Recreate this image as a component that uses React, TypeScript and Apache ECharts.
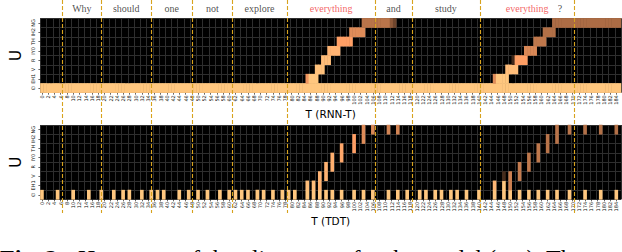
import React, { useEffect, useRef } from 'react';
import * as echarts from 'echarts';

// ---------- data ----------
const frameCount = 186; // T = 0 … 185
const frames: string[] = Array.from({ length: frameCount }, (_, i) => String(i));
const tokens = ['∅', 'EH1', 'V', 'R', 'IY0', 'TH', 'IH2', 'NG'];

const words = ['Why', 'should', 'one', 'not', 'explore', 'everything', 'and', 'study', 'everything', '?'];
const wordCenters = [18.2, 32, 46.2, 58.8, 73.5, 95.8, 115.2, 131.5, 156.8, 167];
const wordHighlighted = [false, false, false, false, false, true, false, false, true, false];
const wordBoundaries = [12.1, 24.2, 39.7, 52.6, 65, 82.1, 109.4, 120.9, 142.2, 171.3];

// RNN-T: runs of [row, firstFrame, lastFrame, probability]
const rnntRuns: [number, number, number, number][] = [
  [0, 0, 185, 1.0],
  [1, 85, 85, 0.75], [1, 86, 88, 1.0],
  [2, 88, 90, 0.97],
  [3, 90, 92, 0.95],
  [4, 92, 95, 0.9],
  [5, 95, 99, 0.8],
  [6, 99, 103, 0.7],
  [7, 103, 111, 0.58], [7, 112, 112, 0.45], [7, 113, 113, 0.35],
  [1, 145, 145, 0.7], [1, 146, 149, 1.0],
  [2, 149, 152, 0.95],
  [3, 151, 151, 0.2], [3, 152, 155, 0.8],
  [4, 155, 158, 0.68],
  [5, 158, 161, 0.6],
  [6, 161, 164, 0.56],
  [7, 164, 185, 0.54],
];

// TDT: frames where a blank is emitted
const tdtBlankFrames = [
  0, 5, 10, 15, 19, 23, 26, 28, 32, 35, 37, 39, 44, 47, 50, 53, 57, 60, 62, 64, 66,
  69, 71, 74, 77, 79, 81, 85, 87, 89, 91, 93, 96, 100, 103, 106, 111, 114, 117,
  121, 123, 126, 128, 131, 133, 136, 140, 145, 148, 150, 153, 156, 159, 162, 165,
  169, 174, 179, 184,
];
const tdtBlankValue = 1.0;
// TDT: token cells [frame, row, probability]
const tdtTokenCells: [number, number, number][] = [
  [85, 1, 0.95], [87, 1, 0.95],
  [89, 1, 0.9], [89, 2, 0.9],
  [91, 2, 0.9], [91, 3, 0.9],
  [93, 3, 0.88], [93, 4, 0.88],
  [96, 4, 0.84], [96, 5, 0.84],
  [100, 5, 0.8], [100, 6, 0.8],
  [103, 6, 0.7], [103, 7, 0.7],
  [106, 7, 0.68], [111, 7, 0.66], [114, 7, 0.66],
  [145, 1, 0.92],
  [148, 1, 1.0], [148, 2, 0.22],
  [150, 1, 0.64], [150, 2, 0.64],
  [153, 2, 0.62], [153, 3, 0.62],
  [156, 3, 0.6], [156, 4, 0.6],
  [159, 4, 0.6], [159, 5, 0.6],
  [162, 5, 0.58], [162, 6, 0.58],
  [165, 6, 0.58], [165, 7, 0.58],
  [169, 7, 0.58], [174, 7, 0.56], [179, 7, 0.56], [184, 7, 0.56],
];

const captionBold = 'Fig. 2:';
const captionText = 'Heatmaps of the alignments for the model (top). The';

// ---------- build ----------
function buildRnnt(): number[][] {
  const out: number[][] = [];
  rnntRuns.forEach(([row, a, b, v]) => {
    for (let t = a; t <= b; t++) out.push([t, row, v]);
  });
  return out;
}
function buildTdt(): number[][] {
  const out: number[][] = tdtBlankFrames.map((t) => [t, 0, tdtBlankValue]);
  tdtTokenCells.forEach(([t, row, v]) => out.push([t, row, v]));
  return out;
}

const copper = ['#000000', '#402819', '#805033', '#BF784C', '#FF9F65', '#FFC77F'];
const gridLineColor = '#2e2e2e';
const LEFT = 23.4;
const WIDTH = 597.6;

function heatX(gridIndex: number, name: string, nameGap: number) {
  return {
    type: 'category',
    gridIndex,
    data: frames,
    axisLine: { show: false },
    axisTick: { show: true, interval: 1, length: 2, alignWithLabel: true, lineStyle: { color: '#000', width: 0.6 } },
    axisLabel: { interval: 1, rotate: 90, fontSize: 5, margin: 2.5, color: '#111', fontFamily: 'DejaVu Sans' },
    splitLine: { show: true, interval: 1, lineStyle: { color: gridLineColor, width: 1 } },
    name,
    nameLocation: 'middle',
    nameGap,
    nameTextStyle: { fontSize: 10.5, color: '#000', fontFamily: 'DejaVu Sans' },
  };
}
function heatY(gridIndex: number) {
  return {
    type: 'category',
    gridIndex,
    data: tokens,
    axisLine: { show: false },
    axisTick: { show: true, interval: 0, length: 2, alignWithLabel: true, lineStyle: { color: '#000', width: 0.6 } },
    axisLabel: { interval: 0, rotate: 90, fontSize: 5, margin: 4.5, color: '#111', fontFamily: 'DejaVu Sans' },
    splitLine: { show: true, interval: 0, lineStyle: { color: gridLineColor, width: 1 } },
    name: 'U',
    nameLocation: 'middle',
    nameRotate: 90,
    nameGap: 8,
    nameTextStyle: { fontSize: 15, color: '#000', fontFamily: 'DejaVu Sans' },
  };
}

export default function App() {
  const ref = useRef<HTMLDivElement>(null);
  useEffect(() => {
    if (!ref.current) return;
    const chart = echarts.init(ref.current, undefined, { renderer: 'svg' });
    const option: any = {
      animation: false,
      backgroundColor: '#ffffff',
      grid: [
        { left: LEFT, top: 18.3, width: WIDTH, height: 74.4, show: true, backgroundColor: '#000', borderWidth: 0 },
        { left: LEFT, top: 125, width: WIDTH, height: 74.4, show: true, backgroundColor: '#000', borderWidth: 0 },
        { left: LEFT, top: 0, width: WIDTH, height: 213, show: false },
      ],
      xAxis: [
        heatX(0, 'T (RNN-T)', 13),
        heatX(1, 'T (TDT)', 12),
        { type: 'value', gridIndex: 2, min: 0, max: frameCount, show: false },
      ],
      yAxis: [
        heatY(0),
        heatY(1),
        { type: 'value', gridIndex: 2, min: 0, max: 213, inverse: true, show: false },
      ],
      visualMap: {
        show: false,
        type: 'continuous',
        min: 0,
        max: 1,
        seriesIndex: [0, 1],
        inRange: { color: copper },
      },
      series: [
        {
          type: 'heatmap', xAxisIndex: 0, yAxisIndex: 0, data: buildRnnt(),
          emphasis: { disabled: true }, progressive: 0,
        },
        {
          type: 'heatmap', xAxisIndex: 1, yAxisIndex: 1, data: buildTdt(),
          emphasis: { disabled: true }, progressive: 0,
        },
        {
          type: 'scatter', xAxisIndex: 2, yAxisIndex: 2, z: 10,
          symbolSize: 1,
          itemStyle: { color: 'rgba(0,0,0,0)' },
          silent: true,
          data: words.map((w, i) => ({
            name: w,
            value: [wordCenters[i], 8],
            label: { color: wordHighlighted[i] ? '#f03a3a' : '#222222' },
          })),
          label: {
            show: true, position: 'inside', formatter: '{b}',
            fontFamily: 'Liberation Serif', fontSize: 10,
          },
          markLine: {
            silent: true,
            symbol: ['none', 'none'],
            label: { show: false },
            lineStyle: { color: '#d7a21e', type: [4, 2], width: 1.1, opacity: 1 },
            emphasis: { disabled: true },
            data: wordBoundaries.map((b) => ({ xAxis: b })),
          },
        },
      ],
      graphic: [
        {
          type: 'text', x: 0, y: 246, silent: true,
          style: { text: captionBold, fontFamily: 'Liberation Serif', fontWeight: 'bold', fontSize: 24, fill: '#000', verticalAlign: 'top' },
        },
        {
          type: 'text', x: 78, y: 246, silent: true,
          style: { text: captionText, fontFamily: 'Liberation Serif', fontSize: 24, fill: '#000', verticalAlign: 'top' },
        },
      ],
    };
    chart.setOption(option);
    return () => chart.dispose();
  }, []);
  return (
    <div
      ref={ref}
      style={{ position: 'absolute', left: 0, top: 0, width: 622, height: 252, overflow: 'hidden' }}
    />
  );
}
